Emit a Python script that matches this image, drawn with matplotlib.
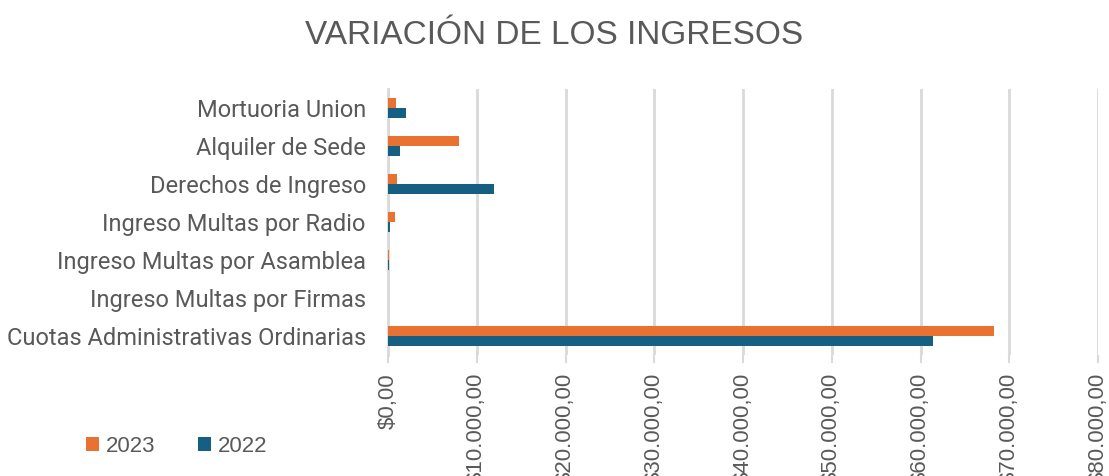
import numpy as np
import matplotlib.pyplot as plt
from matplotlib.ticker import FuncFormatter

plt.rcParams['font.family'] = ['Liberation Sans', 'DejaVu Sans']

# --- Data ---
categories = [
    "Cuotas Administrativas Ordinarias",
    "Ingreso Multas por Firmas",
    "Ingreso Multas por Asamblea",
    "Ingreso Multas por Radio",
    "Derechos de Ingreso",
    "Alquiler de Sede",
    "Mortuoria Union",
]
values_2023 = [68300, 0, 60, 750, 1000, 7950, 900]
values_2022 = [61400, 0, 100, 200, 11900, 1400, 2000]
x_ticks = [0, 10000, 20000, 30000, 40000, 50000, 60000, 70000, 80000]

ORANGE = "#E97132"
BLUE = "#156082"
GREY = "#595959"

fig = plt.figure(figsize=(11.09, 4.76), dpi=100)
ax = fig.add_axes([388 / 1109, 1 - 355 / 476, 710 / 1109, 266 / 476])

y = np.arange(len(categories))
h = 0.27
ax.barh(y + h / 2, values_2023, height=h, color=ORANGE, label="2023", zorder=3)
ax.barh(y - h / 2, values_2022, height=h, color=BLUE, label="2022", zorder=3)

ax.set_ylim(-0.5, len(categories) - 0.5)
ax.set_xlim(0, 80000)
ax.set_yticks(y)
ax.set_yticklabels(categories, fontsize=17, color=GREY, family=['Roboto', 'DejaVu Sans'])
ax.set_xticks(x_ticks)


def money(v, pos):
    s = f"{v:,.2f}".replace(",", "X").replace(".", ",").replace("X", ".")
    return "$" + s


ax.xaxis.set_major_formatter(FuncFormatter(money))
ax.tick_params(axis="x", labelrotation=90, labelsize=16, colors=GREY,
               length=6, width=1.5, color="#D9D9D9", pad=7)
ax.tick_params(axis="y", length=0, pad=16)
for lbl in ax.get_xticklabels():
    lbl.set_verticalalignment("top")

ax.grid(axis="x", color="#D9D9D9", linewidth=2, zorder=0)
for s in ["top", "right", "bottom"]:
    ax.spines[s].set_visible(False)
ax.spines["left"].set_color("#D9D9D9")
ax.spines["left"].set_linewidth(2)

fig.text(0.5, 1 - 36 / 476, "VARIACIÓN DE LOS INGRESOS", ha="center", va="center",
         fontsize=24, color=GREY)

handles, labels = ax.get_legend_handles_labels()
fig.legend(handles, labels, loc="center left", bbox_to_anchor=(66 / 1109, 1 - 446 / 476),
           ncol=2, frameon=False, fontsize=16, labelcolor=GREY,
           handlelength=0.6, handleheight=0.6, handletextpad=0.3, columnspacing=1.9)

fig.savefig("out.png", dpi=100)
